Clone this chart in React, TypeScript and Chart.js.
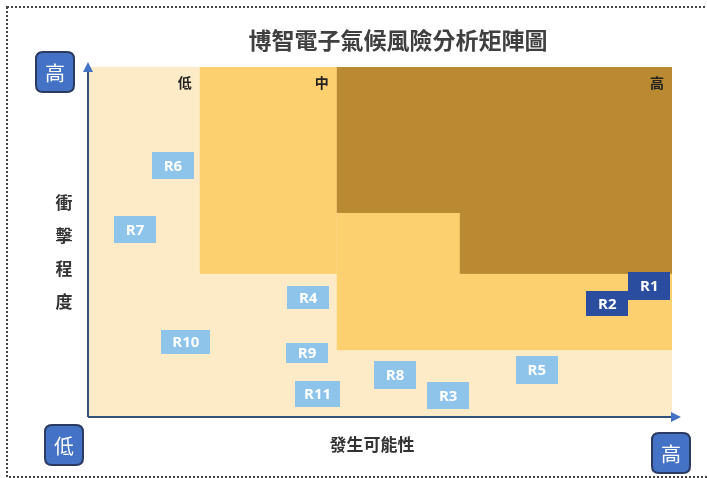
import React, { useEffect, useRef } from "react";
import { Chart, registerables } from "chart.js";

Chart.register(...registerables);

// ---- data ----
const TITLE = "博智電子氣候風險分析矩陣圖";
const X_TITLE = "發生可能性";
const Y_TITLE = ["衝", "擊", "程", "度"];
const LEVEL_LABELS = ["低", "中", "高"];

const riskLabels = ["R1", "R2", "R3", "R4", "R5", "R6", "R7", "R8", "R9", "R10", "R11"];
const likelihood = [96.1, 88.9, 61.6, 37.6, 76.8, 14.4, 7.9, 52.5, 37.4, 16.6, 39.2];
const impact = [37.4, 32.4, 6.1, 34.1, 13.4, 71.9, 53.6, 12.0, 18.3, 21.4, 6.6];
const criticalRisks = ["R1", "R2"];

// zone thresholds (data units)
const xBreaks = [19, 42.5, 63.6];
const yBreaks = [19.1, 40.9, 58.3];

// zones: [x0, x1, y0, y1]
const lowZone = [[0, 100, 0, 100]];
const midZone = [
  [xBreaks[0], xBreaks[1], yBreaks[1], 100],
  [xBreaks[1], 100, yBreaks[0], 100],
];
const highZone = [
  [xBreaks[1], 100, yBreaks[2], 100],
  [xBreaks[2], 100, yBreaks[1], yBreaks[2]],
];
const levelLabelX = [xBreaks[0], xBreaks[1], 100];

// ---- styles ----
const COLORS = {
  low: "#FDEBC7",
  mid: "#FDD06F",
  high: "#B98A32",
  box: "#8EC3EA",
  boxCritical: "#2A4DA0",
  axis: "#34507F",
  arrow: "#4472C4",
  badge: "#4472C4",
  badgeBorder: "#2B3A60",
};
const boxW = [42, 42, 42, 42, 42, 42, 42, 42, 42, 49, 45];
const boxH = [28, 25, 27, 23, 28, 27, 27, 28, 20, 24, 26];

const W = 707;
const H = 478;

function roundRect(ctx: CanvasRenderingContext2D, x: number, y: number, w: number, h: number, r: number) {
  ctx.beginPath();
  ctx.moveTo(x + r, y);
  ctx.lineTo(x + w - r, y);
  ctx.quadraticCurveTo(x + w, y, x + w, y + r);
  ctx.lineTo(x + w, y + h - r);
  ctx.quadraticCurveTo(x + w, y + h, x + w - r, y + h);
  ctx.lineTo(x + r, y + h);
  ctx.quadraticCurveTo(x, y + h, x, y + h - r);
  ctx.lineTo(x, y + r);
  ctx.quadraticCurveTo(x, y, x + r, y);
  ctx.closePath();
}

const matrixPlugin = {
  id: "matrix",
  beforeDatasetsDraw(chart: any) {
    const { ctx, scales } = chart;
    const xs = scales.x;
    const ys = scales.y;
    const drawZones = (zones: number[][], color: string) => {
      ctx.fillStyle = color;
      zones.forEach(([x0, x1, y0, y1]) => {
        const px0 = xs.getPixelForValue(x0);
        const px1 = xs.getPixelForValue(x1);
        const py0 = ys.getPixelForValue(y1);
        const py1 = ys.getPixelForValue(y0);
        ctx.fillRect(px0, py0, px1 - px0, py1 - py0);
      });
    };
    ctx.save();
    drawZones(lowZone, COLORS.low);
    drawZones(midZone, COLORS.mid);
    drawZones(highZone, COLORS.high);

    // level labels
    ctx.fillStyle = "#222";
    ctx.font = "bold 14px 'Noto Sans CJK TC'";
    ctx.textAlign = "right";
    ctx.textBaseline = "middle";
    const top = ys.getPixelForValue(100);
    LEVEL_LABELS.forEach((t, i) => {
      ctx.fillText(t, xs.getPixelForValue(levelLabelX[i]) - 8, top + 16);
    });
    ctx.restore();
  },
  afterDatasetsDraw(chart: any) {
    const { ctx } = chart;
    const meta = chart.getDatasetMeta(0);
    ctx.save();
    ctx.font = "bold 15px 'Open Sans'";
    ctx.textAlign = "center";
    ctx.textBaseline = "middle";
    meta.data.forEach((el: any, i: number) => {
      const label = riskLabels[i];
      const w = boxW[i];
      const h = boxH[i];
      ctx.fillStyle = criticalRisks.includes(label) ? COLORS.boxCritical : COLORS.box;
      ctx.fillRect(Math.round(el.x - w / 2), Math.round(el.y - h / 2), w, h);
      ctx.fillStyle = "#FFFFFF";
      ctx.fillText(label, el.x, el.y + 1);
    });
    ctx.restore();
  },
  afterDraw(chart: any) {
    const { ctx, chartArea } = chart;
    const { left, right, top, bottom } = chartArea;
    ctx.save();

    // dotted frame
    ctx.strokeStyle = "#444";
    ctx.lineWidth = 2;
    ctx.setLineDash([2, 2]);
    ctx.strokeRect(7, 7, W + 10, 470);
    ctx.setLineDash([]);

    // axes
    const ax = left - 1;
    const ay = bottom;
    ctx.strokeStyle = COLORS.axis;
    ctx.lineWidth = 2;
    ctx.beginPath();
    ctx.moveTo(ax, ay);
    ctx.lineTo(ax, top + 4);
    ctx.moveTo(ax, ay);
    ctx.lineTo(right + 1, ay);
    ctx.stroke();
    ctx.fillStyle = COLORS.arrow;
    ctx.beginPath();
    ctx.moveTo(ax, top - 5);
    ctx.lineTo(ax - 5, top + 5);
    ctx.lineTo(ax + 5, top + 5);
    ctx.closePath();
    ctx.fill();
    ctx.beginPath();
    ctx.moveTo(right + 9, ay);
    ctx.lineTo(right - 1, ay - 5);
    ctx.lineTo(right - 1, ay + 5);
    ctx.closePath();
    ctx.fill();

    // title
    ctx.fillStyle = "#3F3F3F";
    ctx.font = "bold 23px 'Noto Sans CJK TC'";
    ctx.textAlign = "center";
    ctx.textBaseline = "middle";
    ctx.fillText(TITLE, 398, 40);

    // y title
    ctx.fillStyle = "#333";
    ctx.font = "bold 17px 'Noto Sans CJK TC'";
    Y_TITLE.forEach((c, i) => ctx.fillText(c, 64, 203 + i * 33));

    // x title
    ctx.fillText(X_TITLE, 372, 445);

    // badges
    const badge = (x: number, y: number, t: string) => {
      roundRect(ctx, x, y, 38, 40, 7);
      ctx.fillStyle = COLORS.badge;
      ctx.fill();
      ctx.strokeStyle = COLORS.badgeBorder;
      ctx.lineWidth = 2;
      ctx.stroke();
      ctx.fillStyle = "#FFFFFF";
      ctx.font = "20px 'Noto Sans CJK TC'";
      ctx.fillText(t, x + 19, y + 21);
    };
    badge(36, 52, "高");
    badge(45, 425, "低");
    badge(652, 433, "高");

    ctx.restore();
  },
};

export default function App() {
  const ref = useRef<HTMLCanvasElement | null>(null);
  useEffect(() => {
    document.body.style.margin = "0";
    const canvas = ref.current!;
    const chart = new Chart(canvas, {
      type: "scatter",
      data: {
        datasets: [
          {
            label: "風險",
            data: likelihood.map((x, i) => ({ x, y: impact[i] })),
            pointRadius: 0,
            pointHoverRadius: 0,
          },
        ],
      },
      options: {
        responsive: false,
        animation: false,
        layout: { padding: { left: 89, right: 35, top: 67, bottom: 61 } },
        plugins: { legend: { display: false }, tooltip: { enabled: false }, title: { display: false } },
        scales: {
          x: { type: "linear", min: 0, max: 100, display: false },
          y: { type: "linear", min: 0, max: 100, display: false },
        },
      },
      plugins: [matrixPlugin],
    });
    return () => chart.destroy();
  }, []);
  return (
    <div style={{ position: "absolute", left: 0, top: 0, width: W, height: H, background: "#fff" }}>
      <canvas ref={ref} width={W} height={H} style={{ width: W, height: H, display: "block" }} />
    </div>
  );
}
